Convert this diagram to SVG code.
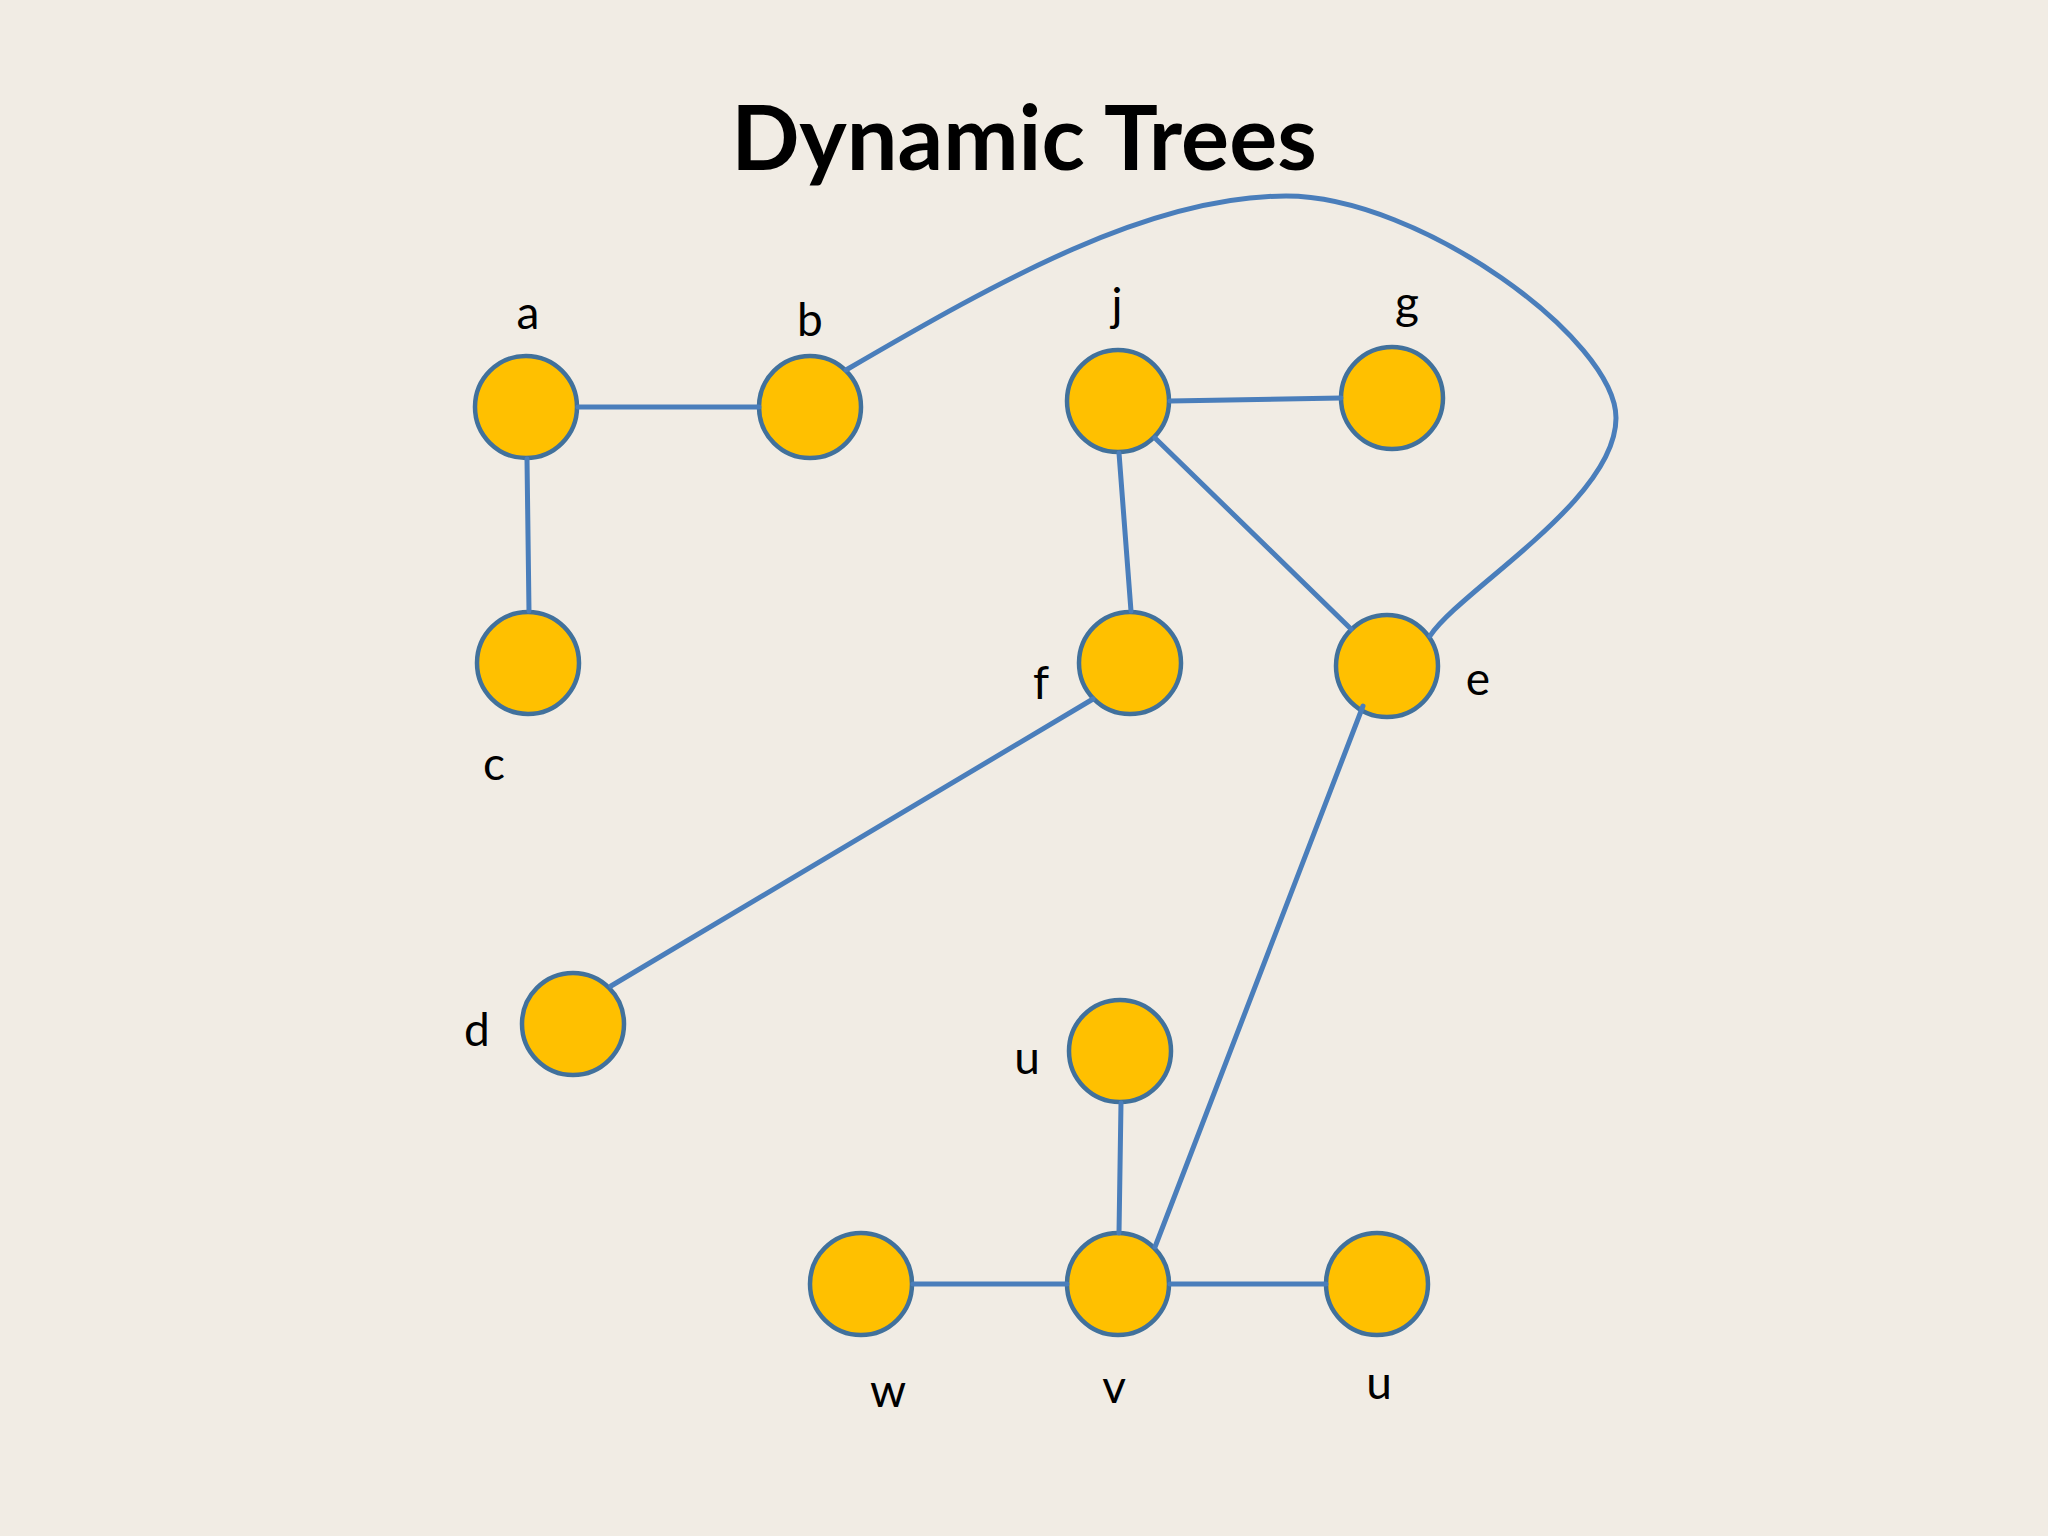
<svg xmlns="http://www.w3.org/2000/svg" width="2048" height="1536" viewBox="0 0 2048 1536">
<style>
.bg{fill:#F1ECE4}
.node{fill:#FFC000;stroke:#41719C;stroke-width:4.5}
.edge{fill:none;stroke:#4A7EBB;stroke-width:5;stroke-linecap:round}
.lbl{font-family:Lato,"Open Sans","Liberation Sans",sans-serif;font-size:46px;fill:#000;text-anchor:middle}
.title{font-family:Lato,"Open Sans","Liberation Sans",sans-serif;font-size:90px;font-weight:bold;fill:#000;text-anchor:middle}
</style>
<rect class="bg" x="0" y="0" width="2048" height="1536"/>
<text class="title" x="1024" y="170">Dynamic Trees</text>
<g id="nodes">
<g id="node-a"><circle class="node" cx="526" cy="407" r="51"/><text class="lbl" x="528" y="329">a</text></g>
<g id="node-b"><circle class="node" cx="810" cy="407" r="51"/><text class="lbl" x="810" y="336">b</text></g>
<g id="node-j"><circle class="node" cx="1118" cy="401" r="51"/><text class="lbl" x="1117" y="321">j</text></g>
<g id="node-g"><circle class="node" cx="1392" cy="398" r="51"/><text class="lbl" x="1407" y="319">g</text></g>
<g id="node-c"><circle class="node" cx="528" cy="663" r="51"/><text class="lbl" x="494" y="780">c</text></g>
<g id="node-f"><circle class="node" cx="1130" cy="663" r="51"/><text class="lbl" x="1041" y="699">f</text></g>
<g id="node-e"><circle class="node" cx="1387" cy="666" r="51"/><text class="lbl" x="1478" y="695">e</text></g>
<g id="node-d"><circle class="node" cx="573" cy="1024" r="51"/><text class="lbl" x="477" y="1046">d</text></g>
<g id="node-u1"><circle class="node" cx="1120" cy="1051" r="51"/><text class="lbl" x="1027" y="1074">u</text></g>
<g id="node-w"><circle class="node" cx="861" cy="1284" r="51"/><text class="lbl" x="888" y="1407">w</text></g>
<g id="node-v"><circle class="node" cx="1118" cy="1284" r="51"/><text class="lbl" x="1114" y="1403">v</text></g>
<g id="node-u2"><circle class="node" cx="1377" cy="1284" r="51"/><text class="lbl" x="1379" y="1399">u</text></g>
</g>
<g id="connectors">
<line class="edge" x1="578" y1="407" x2="759" y2="407"/>
<line class="edge" x1="527" y1="459" x2="529" y2="611"/>
<path class="edge" d="M 846 370 C 1000 280 1150 196 1286 196 C 1420 196 1616 340 1616 418 C 1616 500 1460 590 1430 636"/>
<line class="edge" x1="1170" y1="401" x2="1341" y2="398"/>
<line class="edge" x1="1155" y1="438" x2="1351" y2="629"/>
<line class="edge" x1="1119" y1="453" x2="1131" y2="611"/>
<line class="edge" x1="1093" y1="699" x2="611" y2="986"/>
<line class="edge" x1="1363" y1="706" x2="1155" y2="1247"/>
<line class="edge" x1="1121" y1="1103" x2="1119" y2="1233"/>
<line class="edge" x1="913" y1="1284" x2="1067" y2="1284"/>
<line class="edge" x1="1170" y1="1284" x2="1326" y2="1284"/>
</g>
</svg>
